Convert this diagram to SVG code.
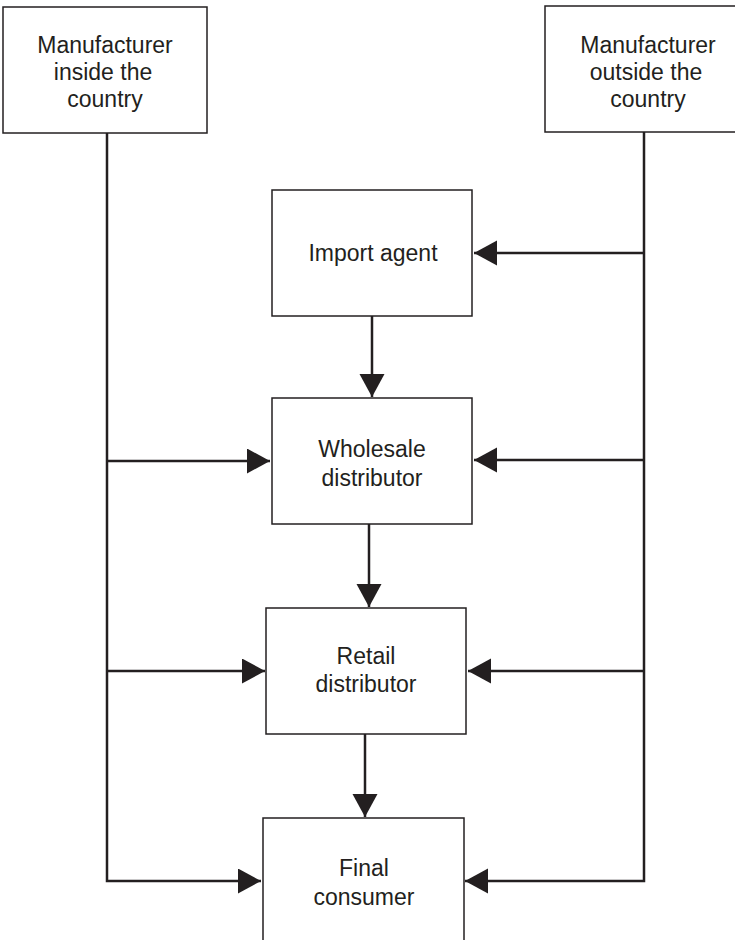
<svg xmlns="http://www.w3.org/2000/svg" width="735" height="940" viewBox="0 0 735 940">
  <style>
    .box { fill: #ffffff; stroke: #231f20; stroke-width: 1.5; }
    .lbl { font-family: "Liberation Sans", Arial, sans-serif; font-size: 23px; fill: #231f20; text-anchor: middle; }
    .wire { fill: none; stroke: #231f20; stroke-width: 2.5; }
  </style>
  <defs>
    <marker id="head" markerUnits="userSpaceOnUse" markerWidth="24" markerHeight="26" refX="23" refY="12.5" orient="auto">
      <path d="M0,0 L23,12.5 L0,25 Z" fill="#231f20"/>
    </marker>
  </defs>
  <rect width="735" height="940" fill="#ffffff"/>

  <!-- connectors -->
  <g id="connectors">
    <!-- domestic manufacturer trunk -->
    <path class="wire" d="M107,133 V881 H261" marker-end="url(#head)"/>
    <path class="wire" d="M107,461 H270" marker-end="url(#head)"/>
    <path class="wire" d="M107,671 H265" marker-end="url(#head)"/>
    <!-- foreign manufacturer trunk -->
    <path class="wire" d="M644,132 V881 H465" marker-end="url(#head)"/>
    <path class="wire" d="M644,253 H474" marker-end="url(#head)"/>
    <path class="wire" d="M644,460 H474" marker-end="url(#head)"/>
    <path class="wire" d="M644,671 H468" marker-end="url(#head)"/>
    <!-- downward chain -->
    <path class="wire" d="M372,316 V397" marker-end="url(#head)"/>
    <path class="wire" d="M369,524 V607" marker-end="url(#head)"/>
    <path class="wire" d="M365,734 V817" marker-end="url(#head)"/>
  </g>

  <g id="mfr-inside">
    <rect class="box" x="3" y="7" width="204" height="126"/>
    <text class="lbl" x="105" y="53">Manufacturer</text>
    <text class="lbl" x="103" y="80">inside the</text>
    <text class="lbl" x="105" y="107">country</text>
  </g>

  <g id="mfr-outside">
    <rect class="box" x="545" y="6" width="210" height="126"/>
    <text class="lbl" x="648" y="53">Manufacturer</text>
    <text class="lbl" x="646" y="80">outside the</text>
    <text class="lbl" x="648" y="107">country</text>
  </g>

  <g id="import-agent">
    <rect class="box" x="272" y="190" width="200" height="126"/>
    <text class="lbl" x="373" y="261">Import agent</text>
  </g>

  <g id="wholesale">
    <rect class="box" x="272" y="398" width="200" height="126"/>
    <text class="lbl" x="372" y="457">Wholesale</text>
    <text class="lbl" x="372" y="486">distributor</text>
  </g>

  <g id="retail">
    <rect class="box" x="266" y="608" width="200" height="126"/>
    <text class="lbl" x="366" y="664">Retail</text>
    <text class="lbl" x="366" y="692">distributor</text>
  </g>

  <g id="final-consumer">
    <rect class="box" x="263" y="818" width="201" height="140"/>
    <text class="lbl" x="364" y="876">Final</text>
    <text class="lbl" x="364" y="905">consumer</text>
  </g>
</svg>
